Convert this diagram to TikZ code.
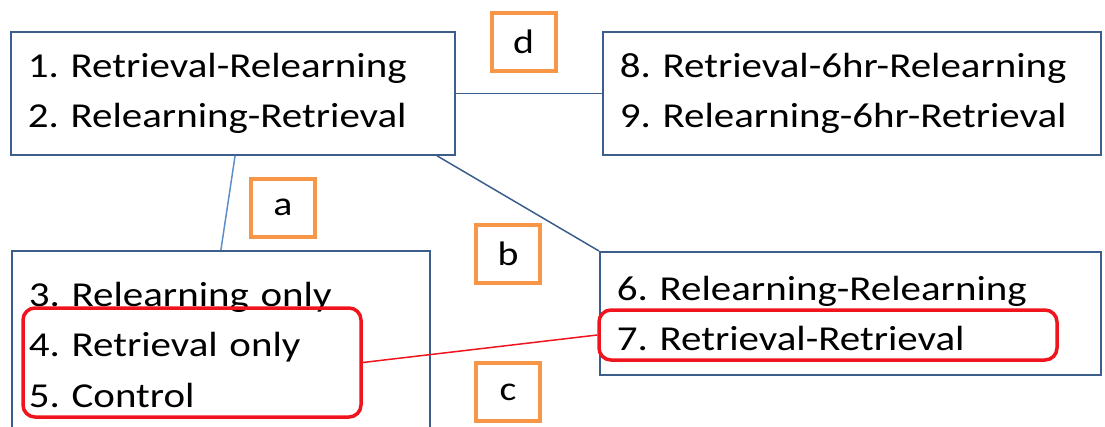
\documentclass[tikz,border=0pt]{standalone}
\usepackage{fontspec}
\setmainfont{Carlito}[FakeStretch=1.17]
\frenchspacing
\definecolor{boxblue}{HTML}{3B5E8C}
\definecolor{lineblue}{HTML}{5F8DC8}
\definecolor{tagorange}{HTML}{F79646}
\definecolor{markred}{HTML}{F0141E}
\begin{document}
\begin{tikzpicture}[x=1pt,y=-1pt,
  grp/.style = {draw=boxblue, line width=1.8pt, anchor=north west, align=left, inner xsep=17pt, inner ysep=0pt, font=\fontsize{35}{50.5}\selectfont},
  tag/.style = {draw=tagorange, line width=4pt, minimum width=64pt, minimum height=58pt, inner sep=0pt, font=\fontsize{34}{40}\selectfont},
  redmark/.style = {draw=markred, line width=3.5pt, rounded corners=12pt, inner sep=0pt}]
\clip (0,0) rectangle (1105,426);
\node[grp, minimum width=444pt, minimum height=123pt, text width=410pt](g12) at (10,31) {1. Retrieval-Relearning\\2. Relearning-Retrieval};
\node[grp, minimum width=498pt, minimum height=123pt, text width=464pt](g89) at (602,31) {8. Retrieval-6hr-Relearning\\9. Relearning-6hr-Retrieval};
\node[grp, minimum width=418pt, minimum height=188pt, text width=384pt](g345) at (11,250) {3. Relearning only\\4. Retrieval only\\5. Control};
\node[grp, minimum width=501pt, minimum height=123pt, text width=467pt](g67) at (599,251) {6. Relearning-Relearning\\7. Retrieval-Retrieval};
\node[redmark, minimum width=338pt, minimum height=109pt](r45) at (192,362.5) {}; \node[redmark, minimum width=458pt, minimum height=50pt](r7) at (828,335) {};
\node[tag](ta) at (283,207.5) {a}; \node[tag](tb) at (508,254) {b}; \node[tag](tc) at (508,392) {c}; \node[tag](td) at (523.5,41.5) {d};
\draw[boxblue, line width=1.5pt] (g12.east) -- (g89.west); \draw[boxblue, line width=1.5pt] (g12.-17.3) -- (g67.north west);
\draw[lineblue, line width=1.5pt] (g12.-88) -- (g345.north); \draw[markred, line width=1.5pt] (r45.east) -- (r7.west);
\end{tikzpicture}
\end{document}
